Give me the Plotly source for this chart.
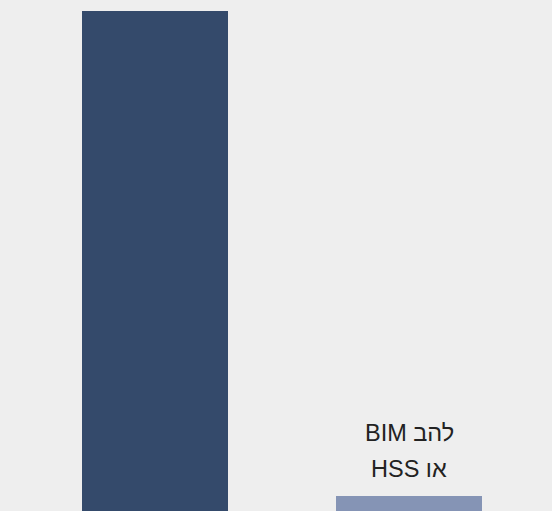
import plotly.graph_objects as go

categories = ["אחר", "להב BIM או HSS"]
values = [100, 3]
label_lines = ["BIM להב", "HSS או"]
colors = ["#344a6b", "#8594b5"]

fig = go.Figure()
fig.add_trace(go.Bar(
    x=[0, 1], y=values, width=0.5748,
    marker=dict(color=colors, line=dict(width=0)),
    hoverinfo="skip", showlegend=False,
))

font = dict(family="Liberation Sans, Arial", size=23.5, color="#222222")
fig.add_annotation(x=1, y=values[1], xref="x", yref="y", text=label_lines[0],
                   showarrow=False, yanchor="bottom", yshift=48, font=font)
fig.add_annotation(x=1, y=values[1], xref="x", yref="y", text=label_lines[1],
                   showarrow=False, yanchor="bottom", yshift=12, font=font)

fig.update_layout(
    width=552, height=511,
    margin=dict(l=0, r=0, t=0, b=0),
    paper_bgcolor="#eeeeee", plot_bgcolor="#eeeeee",
    xaxis=dict(range=[-0.6102, 1.563], visible=False),
    yaxis=dict(range=[0, 102.2], visible=False),
    bargap=0,
)
fig.write_html("out.html", config={"displayModeBar": False},
               post_script="document.body.style.margin='0';document.body.style.background='#eeeeee';")
